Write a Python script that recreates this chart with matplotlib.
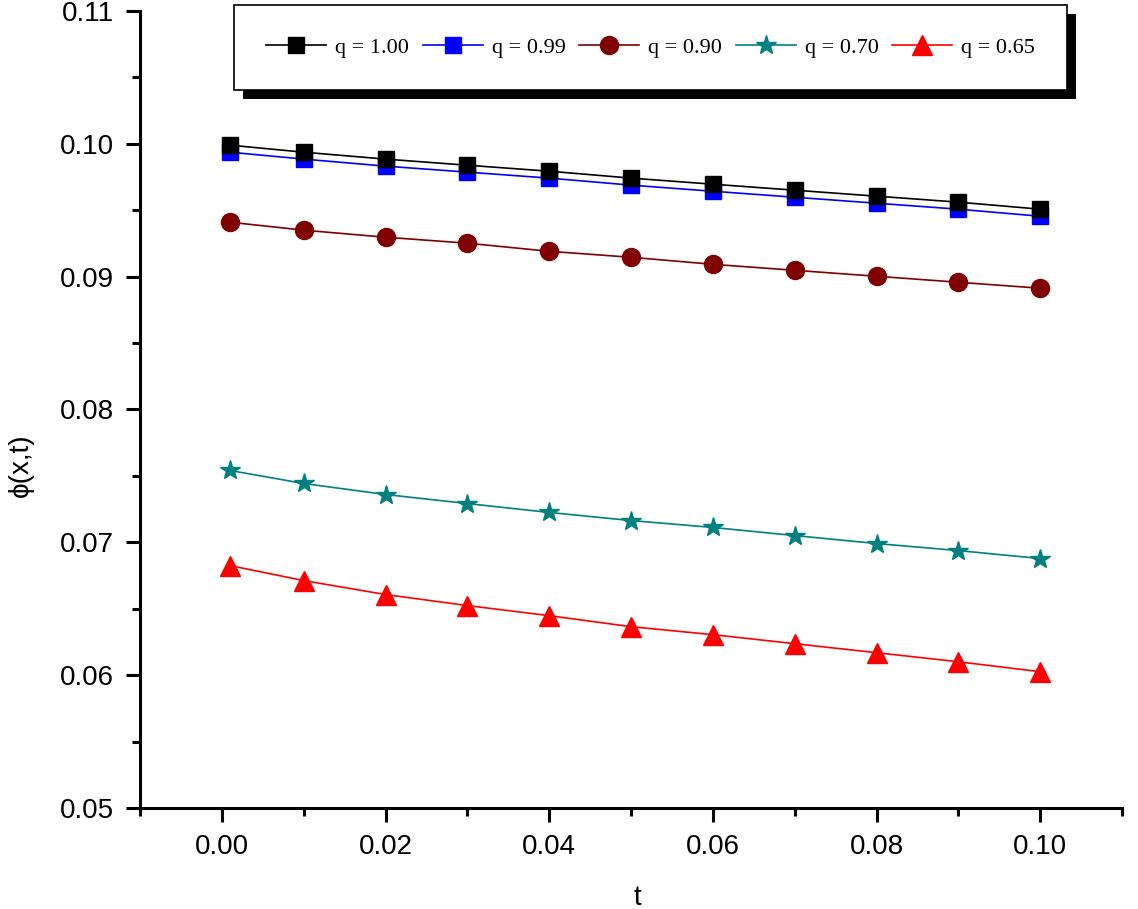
import numpy as np
import matplotlib
matplotlib.use("Agg")
import matplotlib.pyplot as plt
from matplotlib.patches import Rectangle
from matplotlib.transforms import IdentityTransform

plt.rcParams["font.family"] = ["Liberation Sans", "DejaVu Sans"]

t = [0.001, 0.01, 0.02, 0.03, 0.04, 0.05, 0.06, 0.07, 0.08, 0.09, 0.10]

phi_100 = [0.09990, 0.09937, 0.09885, 0.09839, 0.09794, 0.09742,
           0.09696, 0.09651, 0.09606, 0.09561, 0.09508]
phi_099 = [0.09937, 0.09885, 0.09832, 0.09787, 0.09742, 0.09689,
           0.09643, 0.09598, 0.09553, 0.09508, 0.09455]
phi_090 = [0.09410, 0.09350, 0.09297, 0.09252, 0.09191, 0.09146,
           0.09093, 0.09048, 0.09003, 0.08958, 0.08913]
phi_070 = [0.07541, 0.07443, 0.07360, 0.07292, 0.07225, 0.07164,
           0.07112, 0.07051, 0.06991, 0.06938, 0.06878]
phi_065 = [0.06825, 0.06712, 0.06607, 0.06524, 0.06448, 0.06365,
           0.06305, 0.06237, 0.06169, 0.06101, 0.06026]

labels = ["q = 1.00", "q = 0.99", "q = 0.90", "q = 0.70", "q = 0.65"]
series = [phi_100, phi_099, phi_090, phi_070, phi_065]
colors = ["#000000", "#0000ff", "#800000", "#008080", "#ff0000"]
markers = ["s", "s", "o", "*", "^"]
msizes = [11.5, 11.5, 13, 15, 15]
zorders = [5, 4, 3, 3, 3]

fig = plt.figure(figsize=(11.38, 9.09), dpi=100)
ax = fig.add_axes([140 / 1138, 1 - 808 / 909, 982 / 1138, 797 / 909])

for y, lab, c, m, ms, z in zip(series, labels, colors, markers, msizes, zorders):
    ax.plot(t, y, color=c, marker=m, markersize=ms, markeredgecolor=c,
            linewidth=1.2, label=lab, zorder=z)

ax.set_xlim(-0.01, 0.11)
ax.set_ylim(0.05, 0.11)
ax.set_xticks(np.arange(0.0, 0.101, 0.02))
ax.set_xticks(np.arange(-0.01, 0.111, 0.02), minor=True)
ax.set_yticks(np.arange(0.05, 0.111, 0.01))
ax.set_yticks(np.arange(0.055, 0.11, 0.01), minor=True)
ax.xaxis.set_major_formatter(matplotlib.ticker.FormatStrFormatter("%.2f"))
ax.yaxis.set_major_formatter(matplotlib.ticker.FormatStrFormatter("%.2f"))

for s in ["top", "right"]:
    ax.spines[s].set_visible(False)
for s in ["left", "bottom"]:
    ax.spines[s].set_linewidth(2.2)

ax.tick_params(which="major", direction="out", length=10, width=2.2,
               labelsize=20, pad=9)
ax.tick_params(which="minor", direction="out", length=5.5, width=2.2)

ax.set_xlabel("t", fontsize=20)
ax.set_ylabel("ϕ(x,t)", fontsize=20)
ax.xaxis.set_label_coords(0.507, -0.096)
ax.yaxis.set_label_coords(-0.108, 0.43)

leg = ax.legend(loc="upper left", bbox_to_anchor=(234 / 1138, 1 - 5 / 909),
                bbox_transform=fig.transFigure, ncol=5, frameon=True,
                fancybox=False, edgecolor="black", framealpha=1,
                prop={"family": "Liberation Serif", "size": 16},
                handlelength=2.7, handletextpad=0.4, columnspacing=0.62,
                borderpad=1.45, borderaxespad=0)
leg.get_frame().set_linewidth(1.2)
leg.set_zorder(20)

# drop shadow behind the legend box, offset down-right
fig.canvas.draw()
bb = leg.get_window_extent()
shadow = Rectangle((bb.x0 + 9, bb.y0 - 9), bb.width, bb.height,
                   transform=IdentityTransform(), facecolor="black",
                   edgecolor="none", zorder=19, clip_on=False)
ax.add_artist(shadow)

fig.savefig("out.png", dpi=100)
